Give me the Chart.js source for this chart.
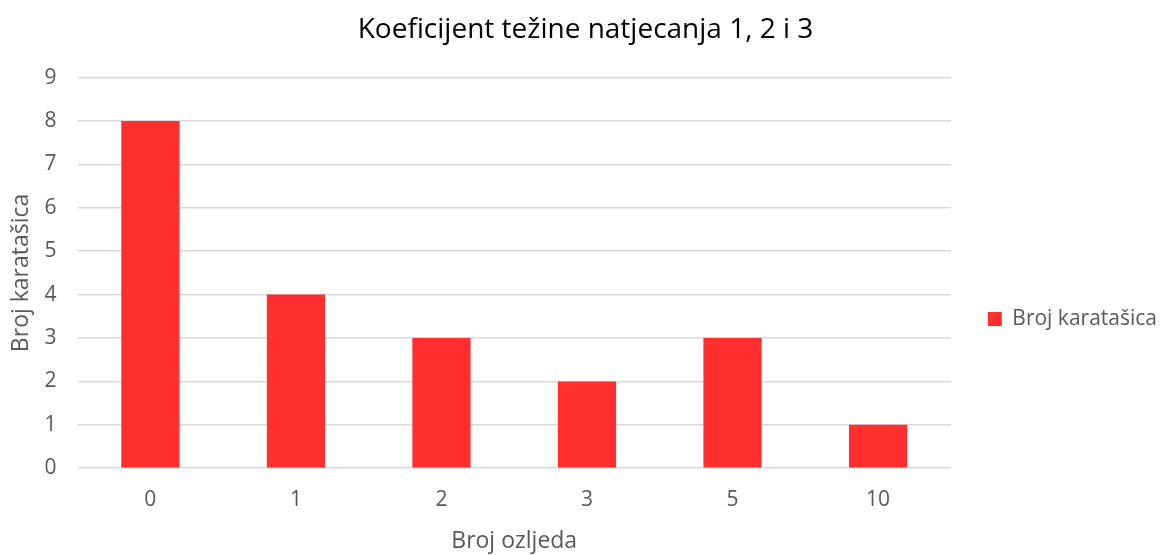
<!DOCTYPE html>
<html>
<head>
<meta charset="utf-8">
<script src="https://cdn.jsdelivr.net/npm/chart.js@4"></script>
<style>
	html, body { margin: 0; padding: 0; background: #fff; }
	#box { width: 1162px; height: 555px; }
</style>
</head>
<body>
<div id="box"><canvas id="grafico"></canvas></div>
<script>
const ozljede = ["0", "1", "2", "3", "5", "10"];
const karatasice = [8, 4, 3, 2, 3, 1];
const naslov = "Koeficijent težine natjecanja 1, 2 i 3";
const nazivSerije = "Broj karatašica";
const nazivX = "Broj ozljeda";
const nazivY = "Broj karatašica";

const font = "'Open Sans', sans-serif";
const siva = "#595959";

new Chart(document.querySelector("#grafico"), {
	type: "bar",
	data: {
		labels: ozljede,
		datasets: [
			{
				label: nazivSerije,
				data: karatasice,
				backgroundColor: "#FF2F2F",
				borderWidth: 0,
				categoryPercentage: 1,
				barPercentage: 0.4,
			},
		],
	},
	options: {
		responsive: true,
		maintainAspectRatio: false,
		animation: false,
		layout: {
			padding: { top: 0, right: -5, bottom: -1, left: 4 },
		},
		scales: {
			x: {
				grid: { display: false, drawTicks: false },
				border: { display: false },
				ticks: { color: siva, font: { family: font, size: 21 }, padding: 19 },
				title: {
					display: true,
					text: nazivX,
					color: siva,
					font: { family: font, size: 23 },
					padding: { top: -4, bottom: 1 },
				},
			},
			y: {
				min: 0,
				max: 9,
				ticks: { stepSize: 1, color: siva, font: { family: font, size: 21 }, padding: 21 },
				grid: { color: "#D9D9D9", lineWidth: 1.5, drawTicks: false },
				border: { display: false },
				title: {
					display: true,
					text: nazivY,
					color: siva,
					font: { family: font, size: 23 },
					padding: { top: 4, bottom: -12 },
				},
			},
		},
		plugins: {
			title: {
				display: true,
				text: naslov,
				color: "#000",
				font: { family: font, size: 28, weight: "normal" },
				padding: { top: 13, bottom: 31 },
			},
			legend: {
				position: "right",
				title: {
					// prazan naslov samo spusta legendu prema sredini
					display: true,
					text: "",
					font: { family: font, size: 10 },
					padding: { top: 70, bottom: 0 },
				},
				labels: {
					color: siva,
					font: { family: font, size: 21 },
					boxWidth: 14,
					boxHeight: 14,
					padding: 37,
				},
			},
			tooltip: { enabled: false },
		},
	},
});
</script>
</body>
</html>
